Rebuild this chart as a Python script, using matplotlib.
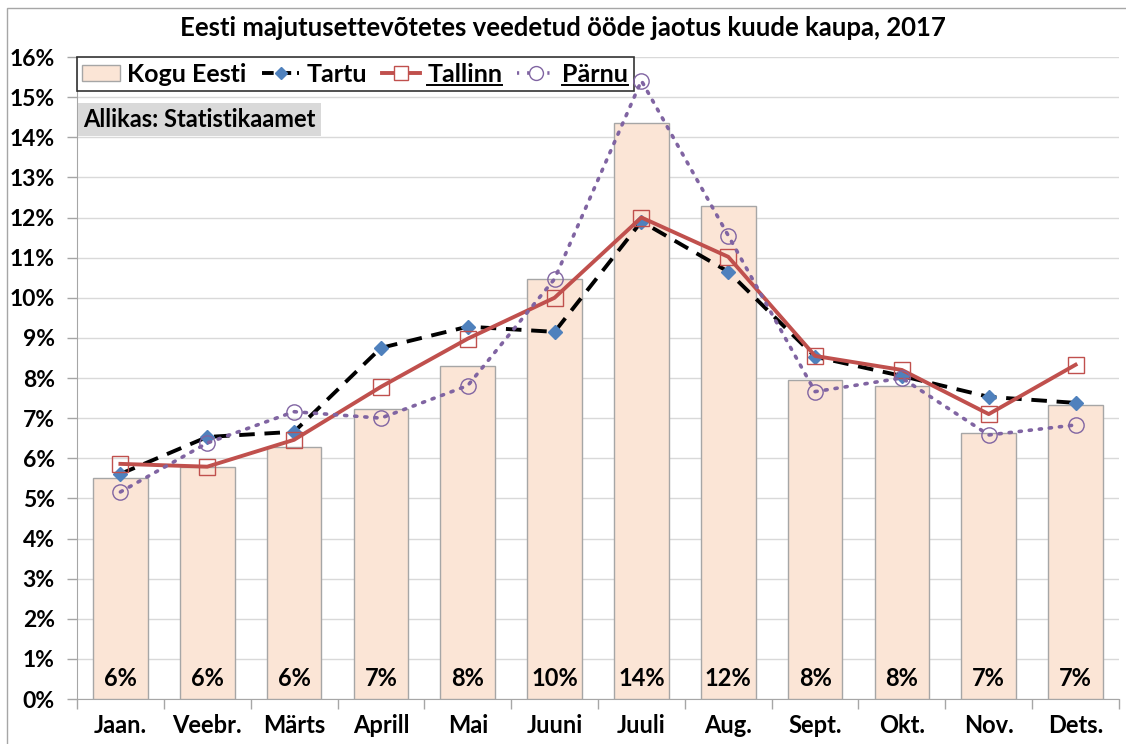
import matplotlib.pyplot as plt
import matplotlib.patches as mpatches
from matplotlib.lines import Line2D
import numpy as np

plt.rcParams['font.family'] = ['Lato', 'DejaVu Sans']
plt.rcParams['font.weight'] = 'bold'

# data (share of nights per month, %)
months = ['Jaan.', 'Veebr.', 'Märts', 'Aprill', 'Mai', 'Juuni',
          'Juuli', 'Aug.', 'Sept.', 'Okt.', 'Nov.', 'Dets.']
kogu_eesti = [5.51, 5.79, 6.28, 7.23, 8.30, 10.47, 14.36, 12.29, 7.95, 7.81, 6.63, 7.33]
tartu = [5.61, 6.53, 6.66, 8.75, 9.28, 9.15, 11.90, 10.65, 8.53, 8.05, 7.53, 7.38]
tallinn = [5.86, 5.79, 6.46, 7.78, 8.98, 10.00, 12.00, 11.02, 8.55, 8.20, 7.10, 8.33]
parnu = [5.16, 6.38, 7.16, 7.00, 7.81, 10.47, 15.41, 11.55, 7.66, 8.00, 6.58, 6.83]

title = 'Eesti majutusettevõtetes veedetud ööde jaotus kuude kaupa, 2017'
source = 'Allikas: Statistikaamet'

fig = plt.figure(figsize=(11.26, 7.44), dpi=100)
ax = fig.add_axes([77/1126, 1-699/744, (1119-77)/1126, (699-57)/744])

x = np.arange(len(months))
bars = ax.bar(x, kogu_eesti, width=0.63, color='#FBE5D6', edgecolor='#A6A6A6',
              linewidth=1, zorder=2)
for xi, v in zip(x, kogu_eesti):
    ax.text(xi, 0.52, f'{v:.0f}%', ha='center', va='center', fontsize=17,
            fontweight='bold', zorder=3)

ax.plot(x, tartu, color='black', linestyle=(0, (4, 2.5)), linewidth=2.8, zorder=4,
        marker='D', markersize=7.5, markerfacecolor='#4F81BD',
        markeredgecolor='#4F81BD')
ax.plot(x, tallinn, color='#C0504D', linewidth=2.8, zorder=5,
        marker='s', markersize=11, markerfacecolor='none',
        markeredgecolor='#C0504D', markeredgewidth=1)
ax.plot(x, parnu, color='#8064A2', linestyle=(0, (0.6, 2.2)), linewidth=2.6,
        dash_capstyle='round', zorder=11,
        marker='o', markersize=11, markerfacecolor='none',
        markeredgecolor='#8064A2', markeredgewidth=1)

ax.set_xlim(-0.5, len(months) - 0.5)
ax.set_ylim(0, 16)
ax.set_yticks(np.arange(0, 17, 1))
ax.set_yticklabels([f'{v}%' for v in range(17)], fontsize=16.5, fontweight='bold')
ax.set_xticks(x)
ax.set_xticklabels(months, fontsize=17, fontweight='bold')
ax.set_xticks(np.arange(-0.5, len(months), 1), minor=True)
ax.tick_params(axis='x', which='major', length=0, pad=11)
ax.tick_params(axis='x', which='minor', length=7, color='#A6A6A6', width=1)
ax.tick_params(axis='y', length=7, color='#A6A6A6', width=1, pad=9)
ax.grid(axis='y', color='#D9D9D9', linewidth=1, zorder=0)
ax.set_axisbelow(True)
for s in ['top', 'right']:
    ax.spines[s].set_visible(False)
for s in ['left', 'bottom']:
    ax.spines[s].set_color('#A6A6A6')
    ax.spines[s].set_zorder(1)

fig.text(0.5, 1-28/744, title, ha='center', va='center', fontsize=18.5,
         fontweight='bold')

# legend
handles = [
    mpatches.Patch(facecolor='#FBE5D6', edgecolor='#A6A6A6'),
    Line2D([], [], color='black', linestyle=(0, (3, 1.5)), linewidth=2.8,
           marker='D', markersize=6, markerfacecolor='#4F81BD', markeredgecolor='#4F81BD'),
    Line2D([], [], color='#C0504D', linewidth=2.8, marker='s', markersize=10,
           markerfacecolor='white', markeredgecolor='#C0504D', markeredgewidth=1),
    Line2D([], [], color='#8064A2', linestyle=(0, (0.6, 2.2)), linewidth=2.6,
           marker='o', markersize=10, markerfacecolor='white',
           markeredgecolor='#8064A2', markeredgewidth=1),
]
labels = ['Kogu Eesti', 'Tartu', 'Tallinn', 'Pärnu']
leg = ax.legend(handles, labels, loc='upper left', bbox_to_anchor=(0, 1.0),
                ncol=4, frameon=True, fancybox=False, edgecolor='black',
                prop={'size': 18, 'weight': 'bold'}, handlelength=1.5,
                handleheight=0.6, handletextpad=0.3, columnspacing=0.6,
                borderpad=0.22, borderaxespad=0.0)
leg.get_frame().set_linewidth(1.2)
leg.set_zorder(10)

ax.text(0.006, 0.9025, source, transform=ax.transAxes, ha='left', va='center',
        fontsize=17, fontweight='bold', zorder=10,
        bbox=dict(boxstyle='square,pad=0.22', facecolor='#D9D9D9', edgecolor='none'))

# outer frame
fig.patches.append(mpatches.Rectangle((7/1126, -0.1), 1.2, 1 - 8/744 + 0.1,
                                      transform=fig.transFigure, fill=False,
                                      edgecolor='#A6A6A6', linewidth=1))

# underline Tallinn and Pärnu in the legend
fig.canvas.draw()
renderer = fig.canvas.get_renderer()
for t in leg.get_texts()[2:]:
    bb = t.get_window_extent(renderer)
    y = bb.y0 + 1
    fig.add_artist(Line2D([bb.x0 / 1126, bb.x1 / 1126], [y / 744, y / 744],
                          transform=fig.transFigure, color='black', linewidth=1.4,
                          zorder=20))

fig.savefig('out.png', dpi=100)
